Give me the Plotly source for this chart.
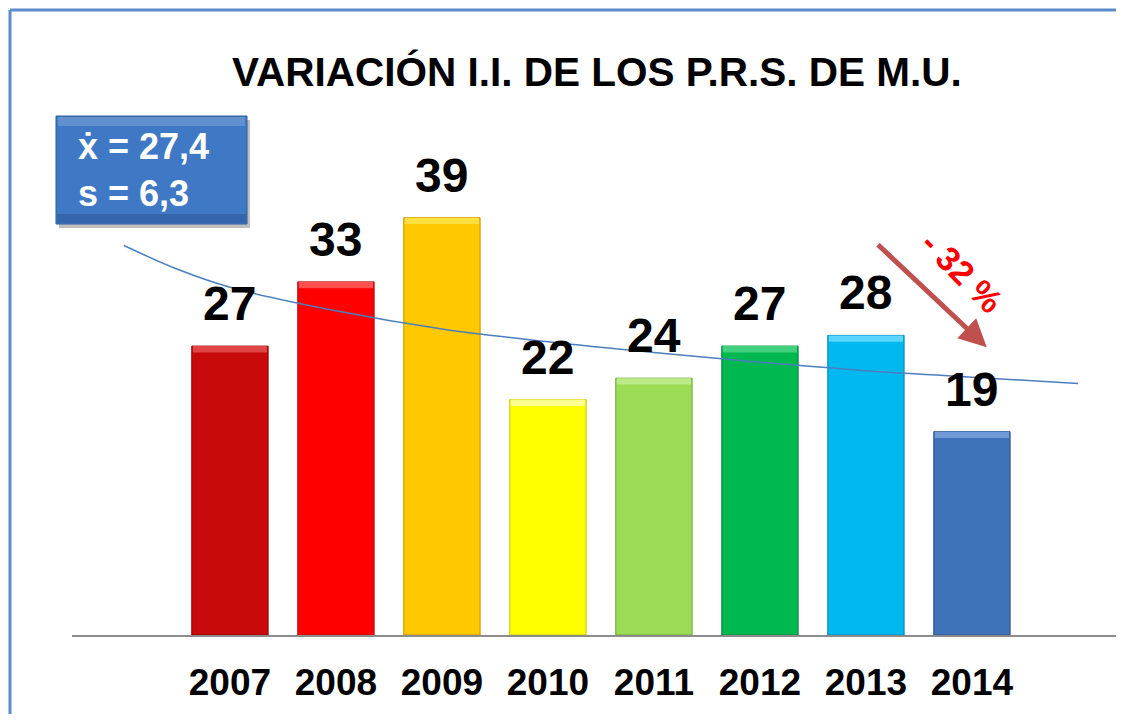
import plotly.graph_objects as go

# ---- data ----
years = ["2007", "2008", "2009", "2010", "2011", "2012", "2013", "2014"]
values = [27, 33, 39, 22, 24, 27, 28, 19]
bar_colors = ["#C80A0A", "#FF0000", "#FFC800", "#FFFF00", "#9BDB55", "#00B850", "#00B8F0", "#3F72B8"]
bar_edges = ["#8A0000", "#B00000", "#C89000", "#C8C800", "#6FA535", "#008038", "#0085B5", "#2A4F85"]
bar_highlights = ["#E04545", "#FF5050", "#FFE040", "#FFFF90", "#BDEB8A", "#40D07E", "#5AD6FF", "#6F9AD6"]

# trend line (position index, value)
trend_pos = [-1, -0.5, 0, 1, 2, 3, 4, 5, 6, 7, 8]
trend_val = [36.4, 34.2, 32.5, 30.3, 28.6, 27.4, 26.4, 25.5, 24.7, 24.1, 23.5]

title_text = "VARIACIÓN I.I. DE LOS P.R.S. DE M.U."
stats_lines = ["ẋ = 27,4", "s = 6,3"]
change_text = "- 32 %"

positions = list(range(len(years)))

fig = go.Figure()
fig.add_trace(go.Bar(
    x=positions, y=values, width=0.72,
    marker=dict(color=bar_colors, line=dict(color=bar_edges, width=1)),
    hoverinfo="skip", showlegend=False,
))
# bevel highlight along each bar's top
bevel = 0.6
fig.add_trace(go.Bar(
    x=positions, y=[bevel] * len(values), base=[v - bevel for v in values], width=0.70,
    marker=dict(color=bar_highlights, line=dict(width=0)),
    hoverinfo="skip", showlegend=False,
))
fig.add_trace(go.Scatter(
    x=trend_pos, y=trend_val, mode="lines",
    line=dict(color="#4A7EBF", width=1.5, shape="spline"),
    hoverinfo="skip", showlegend=False,
))

annotations = []
for p, v in zip(positions, values):
    annotations.append(dict(
        x=p, y=v, xref="x", yref="y", text="<b>" + str(v) + "</b>", showarrow=False,
        yanchor="bottom", yshift=14,
        font=dict(family="Liberation Sans, Arial", size=48, color="black"),
    ))

# title
annotations.append(dict(
    xref="paper", yref="paper", x=(597 - 72) / 1044, y=1 + (100 - 72) / 535,
    yanchor="middle", xanchor="center",
    text="<b>" + title_text + "</b>", showarrow=False,
    font=dict(family="Liberation Sans, Arial", size=40.5, color="black"),
))

# stats box text
annotations.append(dict(
    xref="paper", yref="paper", x=(76 - 72) / 1044, y=1 + (100 - 170) / 535,
    xanchor="left", yanchor="middle", align="left",
    text="<b>" + "<br>".join(stats_lines) + "</b>", showarrow=False,
    font=dict(family="Liberation Sans, Arial", size=36, color="white"),
))

# arrow
annotations.append(dict(
    x=7.14, y=26.9, xref="x", yref="y",
    ax=6.10, ay=36.6, axref="x", ayref="y",
    showarrow=True, arrowhead=2, arrowsize=1.1, arrowwidth=5, arrowcolor="#C0504D",
    text="",
))
# -32 %
annotations.append(dict(
    x=(962 - 230) / 106, y=(635 - 272) / 10.7, xref="x", yref="y",
    text="<b>" + change_text + "</b>", showarrow=False, textangle=45,
    font=dict(family="Liberation Sans, Arial", size=34, color="#FF0000"),
))

shapes = []
W = 1044
# frame (left and top)
fx0 = (10 - 72) / W
fy1 = 1 + (100 - 10) / 535
shapes.append(dict(type="line", xref="paper", yref="paper", x0=fx0, x1=fx0, y0=-0.3, y1=fy1,
                   line=dict(color="#5B8CCB", width=3)))
shapes.append(dict(type="line", xref="paper", yref="paper", x0=fx0, x1=1.0, y0=fy1, y1=fy1,
                   line=dict(color="#5B8CCB", width=3)))
# stats box shadow and box
bx0, bx1 = (56 - 72) / W, (247 - 72) / W
by0, by1 = 1 + (100 - 224) / 535, 1 + (100 - 116) / 535
shapes.append(dict(type="rect", xref="paper", yref="paper",
                   x0=bx0 + 3 / W, x1=bx1 + 3 / W, y0=by0 - 4 / 535, y1=by1 - 4 / 535,
                   fillcolor="rgba(0,0,0,0.25)", line=dict(width=0), layer="below"))
shapes.append(dict(type="rect", xref="paper", yref="paper",
                   x0=bx0, x1=bx1, y0=by0, y1=by1,
                   fillcolor="#3F78C4", line=dict(color="#2E5E9E", width=1), layer="below"))
shapes.append(dict(type="rect", xref="paper", yref="paper",
                   x0=bx0 + 2 / W, x1=bx1 - 2 / W, y0=by1 - 10 / 535, y1=by1 - 1 / 535,
                   fillcolor="rgba(255,255,255,0.18)", line=dict(width=0), layer="below"))
shapes.append(dict(type="rect", xref="paper", yref="paper",
                   x0=bx0 + 1 / W, x1=bx1 - 1 / W, y0=by0 + 1 / 535, y1=by0 + 10 / 535,
                   fillcolor="rgba(0,0,40,0.15)", line=dict(width=0), layer="below"))

# page body adds an 8px margin on every side, so the figure is kept within the window
fig.update_layout(
    width=1108, height=706,
    margin=dict(l=64, r=0, t=92, b=79),
    paper_bgcolor="white", plot_bgcolor="white",
    xaxis=dict(range=[-1.49, -1.49 + W / 106], tickvals=positions,
               ticktext=["<b>" + y + "</b>" for y in years],
               tickfont=dict(family="Liberation Sans, Arial", size=37, color="black"),
               showgrid=False, zeroline=False, showline=True, linecolor="#8C8C8C", linewidth=2,
               ticks="", ticklen=0, ticklabelstandoff=14),
    yaxis=dict(range=[0, 50], visible=False, showgrid=False, zeroline=False),
    annotations=annotations, shapes=shapes, bargap=0.28, barmode="overlay",
)

fig.write_html("out.html")
